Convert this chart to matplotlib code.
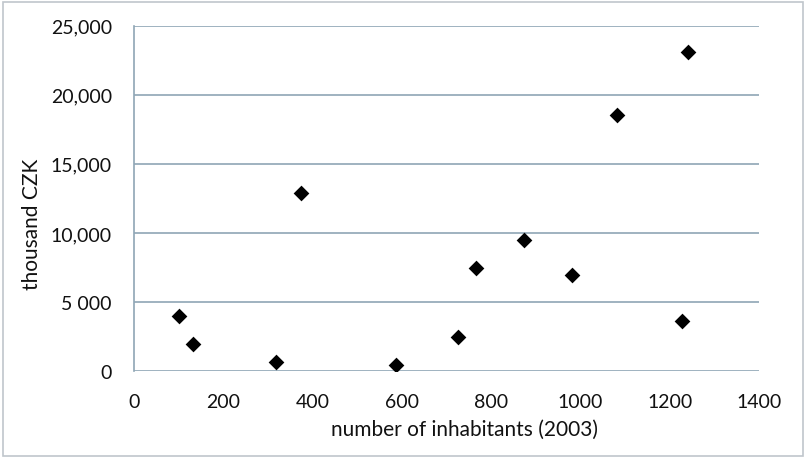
import matplotlib
matplotlib.use("Agg")
import matplotlib.pyplot as plt
from matplotlib.patches import Rectangle
from matplotlib.ticker import FixedLocator, FixedFormatter

inhabitants = [100, 133, 317, 374, 586, 725, 767, 874, 981, 1081, 1227, 1240]
thousand_czk = [3990, 1950, 680, 12900, 450, 2440, 7490, 9470, 6980, 18570, 3650, 23120]
x_ticks = [0, 200, 400, 600, 800, 1000, 1200, 1400]
y_ticks = [0, 5000, 10000, 15000, 20000, 25000]
y_tick_labels = ["0", "5 000", "10,000", "15,000", "20,000", "25,000"]

plt.rcParams['font.family'] = ['Lato', 'DejaVu Sans']
fig = plt.figure(figsize=(8.06, 4.6), dpi=100)
ax = fig.add_axes([134/806, 1-372/460, (759-134)/806, (372-26.7)/460])

grid_color = '#8FA6B5'
text_color = '#111111'
ax.scatter(inhabitants, thousand_czk, marker='D', s=64, color='black', zorder=3, linewidths=0)
ax.set_xlim(0, 1400)
ax.set_ylim(0, 25000)
ax.xaxis.set_major_locator(FixedLocator(x_ticks))
ax.yaxis.set_major_locator(FixedLocator(y_ticks))
ax.yaxis.set_major_formatter(FixedFormatter(y_tick_labels))
ax.grid(axis='y', color=grid_color, linewidth=1.2)
ax.set_axisbelow(True)
for s in ['top', 'right', 'bottom']:
    ax.spines[s].set_visible(False)
ax.spines['left'].set_color(grid_color)
ax.spines['left'].set_linewidth(1.2)
ax.tick_params(axis='both', length=0, labelsize=14, colors=text_color)
ax.tick_params(axis='x', pad=16)
ax.tick_params(axis='y', pad=16)
fig.text(32/806, 1-224/460, 'thousand CZK', rotation=90, ha='center', va='center', fontsize=15, color=text_color)
fig.text(465/806, 1-430/460, 'number of inhabitants (2003)', ha='center', va='center', fontsize=15, color=text_color)

fig.patches.append(Rectangle((3/806, 3/460), 800/806, 454/460, transform=fig.transFigure,
                             fill=False, edgecolor='#c0c6cc', linewidth=1.2))
fig.savefig('out.png', dpi=100)
